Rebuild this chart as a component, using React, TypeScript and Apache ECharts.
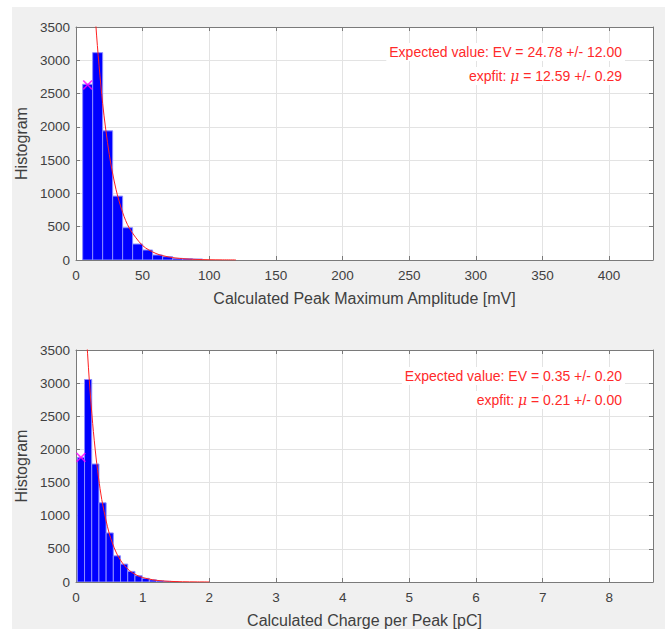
import React, { useEffect, useRef } from "react";
import * as echarts from "echarts";

// ---- Top histogram: Calculated Peak Maximum Amplitude [mV]
const ampBinEdges = [5, 12.5, 20, 27.5, 35, 42.5, 50, 57.5, 65, 72.5, 80, 87.5, 95];
const ampCounts = [2640, 3115, 1940, 960, 485, 240, 150, 75, 50, 25, 20, 15];
const ampFitX = [5, 10, 15, 20, 25, 30, 35, 40, 50, 60, 70, 80, 90, 100, 110, 120];
const ampFitY = [7750, 5206, 3500, 2352, 1581, 1063, 714, 480, 217, 98, 44, 20, 9, 4, 2, 1];
const ampMarker = [8.75, 2630];
const ampText1 = "Expected value: EV = 24.78 +/- 12.00";
const ampText2 = ["expfit: ", "μ", " = 12.59 +/- 0.29"];

// ---- Bottom histogram: Calculated Charge per Peak [pC]
const chgBinEdges = [0.02, 0.128, 0.236, 0.344, 0.452, 0.56, 0.668, 0.776, 0.884, 0.992, 1.1, 1.208, 1.316, 1.424, 1.532];
const chgCounts = [1880, 3055, 1780, 1195, 740, 395, 270, 160, 95, 55, 32, 18, 10, 6];
const chgFitX = [0.05, 0.1, 0.15, 0.2, 0.25, 0.3, 0.35, 0.4, 0.5, 0.6, 0.7, 0.8, 0.9, 1.0, 1.2, 1.4, 1.6, 1.8, 2.0];
const chgFitY = [6199, 4886, 3851, 3035, 2392, 1885, 1486, 1171, 727, 452, 281, 174, 108, 67, 26, 10, 4, 1.5, 0.6];
const chgMarker = [0.074, 1880];
const chgText1 = "Expected value: EV = 0.35 +/- 0.20";
const chgText2 = ["expfit: ", "μ", " = 0.21 +/- 0.00"];

const yTicks = [0, 500, 1000, 1500, 2000, 2500, 3000, 3500];

const FONT = "'Liberation Sans', Arial, Helvetica, sans-serif";
const AXIS_GRAY = "#7a7a7a";
const LABEL_GRAY = "#404040";
const GRID_GRAY = "#e3e3e3";
const TEXT_RED = "#ff2a2a";

function binsData(edges: number[], counts: number[]) {
  return counts.map((c, i) => [edges[i], edges[i + 1], c]);
}

const xMarker =
  "path://M0,1.2 L1.2,0 L5,3.8 L8.8,0 L10,1.2 L6.2,5 L10,8.8 L8.8,10 L5,6.2 L1.2,10 L0,8.8 L3.8,5 Z";

export default function App() {
  const ref = useRef<HTMLDivElement>(null);
  useEffect(() => {
    if (!ref.current) return;
    const chart = echarts.init(ref.current, undefined, { renderer: "svg" });

    const grids = [
      { left: 76, top: 27, width: 577, height: 233 },
      { left: 76, top: 350, width: 577, height: 232 },
    ];

    const mainX = (gi: number, max: number, interval: number, name: string) => ({
      type: "value",
      gridIndex: gi,
      min: 0,
      max,
      interval,
      name,
      nameLocation: "middle",
      nameGap: 30,
      nameTextStyle: { fontFamily: FONT, fontSize: 16, color: LABEL_GRAY },
      axisLine: { show: true, onZero: false, lineStyle: { color: AXIS_GRAY, width: 1 } },
      axisTick: { show: true, inside: true, length: 4, lineStyle: { color: AXIS_GRAY } },
      axisLabel: {
        show: true,
        showMaxLabel: false,
        margin: 8,
        fontFamily: FONT,
        fontSize: 13.5,
        color: LABEL_GRAY,
      },
      splitLine: { show: true, lineStyle: { color: GRID_GRAY, width: 1 } },
    });
    const topX = (gi: number, max: number, interval: number) => ({
      type: "value",
      gridIndex: gi,
      position: "top",
      min: 0,
      max,
      interval,
      axisLine: { show: true, onZero: false, lineStyle: { color: AXIS_GRAY, width: 1 } },
      axisTick: { show: true, inside: true, length: 4, lineStyle: { color: AXIS_GRAY } },
      axisLabel: { show: false },
      splitLine: { show: false },
    });
    const mainY = (gi: number) => ({
      type: "value",
      gridIndex: gi,
      min: 0,
      max: 3500,
      interval: 500,
      name: "Histogram",
      nameLocation: "middle",
      nameGap: 43,
      nameTextStyle: { fontFamily: FONT, fontSize: 16, color: LABEL_GRAY },
      axisLine: { show: true, onZero: false, lineStyle: { color: AXIS_GRAY, width: 1 } },
      axisTick: { show: true, inside: true, length: 4, lineStyle: { color: AXIS_GRAY } },
      axisLabel: {
        margin: 6,
        fontFamily: FONT,
        fontSize: 13.5,
        color: LABEL_GRAY,
        formatter: (v: number) => (yTicks.includes(v) ? String(v) : ""),
      },
      splitLine: { show: true, lineStyle: { color: GRID_GRAY, width: 1 } },
    });
    const rightY = (gi: number) => ({
      type: "value",
      gridIndex: gi,
      position: "right",
      min: 0,
      max: 3500,
      interval: 500,
      axisLine: { show: true, onZero: false, lineStyle: { color: AXIS_GRAY, width: 1 } },
      axisTick: { show: true, inside: true, length: 4, lineStyle: { color: AXIS_GRAY } },
      axisLabel: { show: false },
      splitLine: { show: false },
    });

    const histSeries = (idx: number, data: number[][]) => ({
      type: "custom",
      xAxisIndex: idx,
      yAxisIndex: idx,
      data,
      clip: true,
      z: 3,
      renderItem: (params: any, api: any) => {
        const x0 = api.value(0);
        const x1 = api.value(1);
        const v = api.value(2);
        const p0 = api.coord([x0, v]);
        const p1 = api.coord([x1, 0]);
        return {
          type: "rect",
          shape: { x: p0[0], y: p0[1], width: p1[0] - p0[0], height: p1[1] - p0[1] },
          style: { fill: "#0000ff", stroke: "#8c8cff", lineWidth: 1 },
        };
      },
      encode: { x: [0, 1], y: 2 },
    });

    const fitSeries = (idx: number, xs: number[], ys: number[]) => ({
      type: "line",
      xAxisIndex: idx,
      yAxisIndex: idx,
      data: xs.map((x, i) => [x, ys[i]]),
      smooth: 0.3,
      clip: true,
      showSymbol: false,
      symbol: "none",
      z: 4,
      lineStyle: { color: "#ff2020", width: 1 },
    });

    const markerSeries = (idx: number, pt: number[]) => ({
      type: "scatter",
      xAxisIndex: idx,
      yAxisIndex: idx,
      data: [pt],
      symbol: xMarker,
      symbolSize: 10,
      z: 5,
      itemStyle: { color: "#ff00ff" },
    });

    const richStyles = {
      n: { fontFamily: FONT, fontSize: 14, color: TEXT_RED },
      m: { fontFamily: "'DejaVu Serif', 'Liberation Serif', serif", fontStyle: "italic", fontSize: 14, color: TEXT_RED },
    };
    const textBox = (x: number, y: number, text: string) => ({
      type: "text",
      x,
      y,
      z: 10,
      style: {
        text,
        align: "right",
        verticalAlign: "middle",
        fontFamily: FONT,
        fontSize: 14,
        fill: TEXT_RED,
        backgroundColor: "#ffffff",
        padding: [2, 3, 2, 3],
      },
    });
    const richBox = (x: number, y: number, parts: string[]) => ({
      type: "text",
      x,
      y,
      z: 10,
      style: {
        text: `{n|${parts[0]}}{m|${parts[1]}}{n|${parts[2]}}`,
        rich: richStyles,
        align: "right",
        verticalAlign: "middle",
        fontFamily: FONT,
        fontSize: 14,
        fill: TEXT_RED,
        backgroundColor: "#ffffff",
        padding: [2, 3, 2, 3],
      },
    });

    chart.setOption({
      animation: false,
      backgroundColor: "transparent",
      grid: grids.map((g) => ({
        ...g,
        show: true,
        backgroundColor: "#ffffff",
        borderColor: AXIS_GRAY,
        borderWidth: 0,
        containLabel: false,
      })),
      xAxis: [
        mainX(0, 433, 50, "Calculated Peak Maximum Amplitude [mV]"),
        mainX(1, 8.655, 1, "Calculated Charge per Peak [pC]"),
        topX(0, 433, 50),
        topX(1, 8.655, 1),
      ],
      yAxis: [mainY(0), mainY(1), rightY(0), rightY(1)],
      series: [
        histSeries(0, binsData(ampBinEdges, ampCounts)),
        fitSeries(0, ampFitX, ampFitY),
        markerSeries(0, ampMarker),
        histSeries(1, binsData(chgBinEdges, chgCounts)),
        fitSeries(1, chgFitX, chgFitY),
        markerSeries(1, chgMarker),
      ],
      graphic: [
        textBox(625, 52, ampText1),
        richBox(625, 76, ampText2),
        textBox(625, 376, chgText1),
        richBox(625, 400, chgText2),
      ],
    });

    return () => chart.dispose();
  }, []);

  return (
    <div style={{ position: "fixed", left: 0, top: 0, width: 665, height: 630, background: "#ffffff" }}>
      <div
        style={{ position: "absolute", left: 12, top: 7, width: 653, height: 622, background: "#f0f0f0" }}
      />
      <div ref={ref} style={{ position: "absolute", left: 0, top: 0, width: 665, height: 630 }} />
    </div>
  );
}
